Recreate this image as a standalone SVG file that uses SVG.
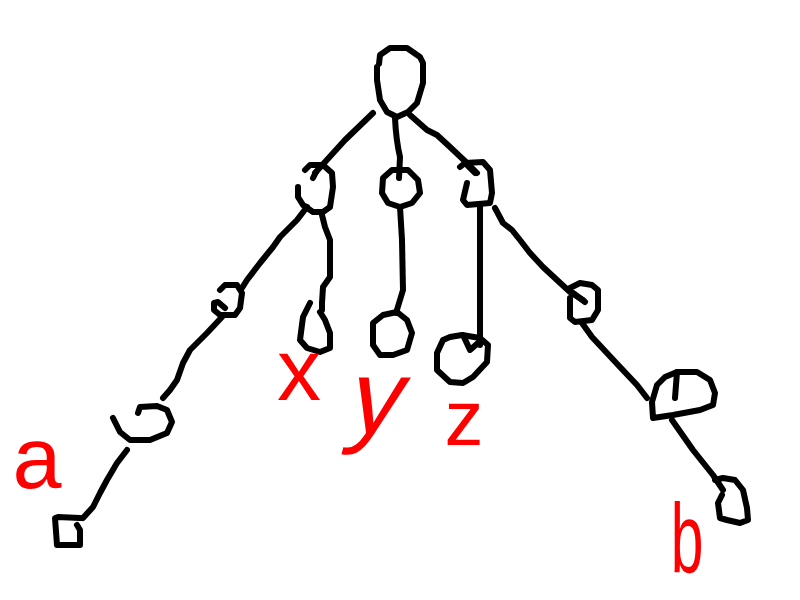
<svg xmlns="http://www.w3.org/2000/svg" width="800" height="600" viewBox="0 0 800 600">
<style>
.s{fill:none;stroke:#000;stroke-width:6;stroke-linecap:round;stroke-linejoin:round}
.l{fill:#ff0000;font-family:"Liberation Sans",Arial,sans-serif;text-anchor:middle}
</style>
<rect width="800" height="600" fill="#fff"/>
<g id="connectors" class="s">
<path d="M373,113 L345,140 L315,173"/>
<path d="M395,118 Q396,140 400,157 L399,178"/>
<path d="M410,115 L427,130 L437,135 L450,147 L467,163 L477,173"/>
<path d="M307,207 L297,220 L280,237 L273,247 L260,263 L247,280 L242,288"/>
<path d="M322,215 L325,227 L330,240 L330,277 L323,287 L322,303 L322,310"/>
<path d="M400,207 L402,240 L403,290 L396,313"/>
<path d="M480,205 L480,345"/>
<path d="M495,208 L503,223 L512,230 L520,240 L530,253 L543,267 L557,280 L570,292 L583,300"/>
<path d="M222,317 L207,333 L190,350 L183,363 L177,380 L170,390 L163,398"/>
<path d="M127,450 L117,463 L107,480 L100,493 L93,507 L83,518"/>
<path d="M582,323 L592,337 L620,367 L637,385 L647,398"/>
<path d="M672,420 L693,450 L713,475 L723,490"/>
</g>
<g id="root" class="s"><path d="M379,64 L380,55 L390,48 L407,48 L420,57 L423,63 L423,83 L417,103 L408,112 L397,117 L387,112 L380,100 L377,80 L377,67"/></g>
<g id="n-left" class="s"><path d="M305,170 L310,165 L323,165 L332,173 L333,187 L330,207 L323,212 L313,212 L303,205 L298,197 L298,187"/><path d="M313,178 L316,172"/></g>
<g id="n-mid" class="s"><path d="M392,170 L408,170 L418,180 L420,193 L412,203 L400,207 L388,203 L382,193 L383,178 Z"/></g>
<g id="n-right" class="s"><path d="M467,183 L463,200 L467,205 L490,203 L492,193 L490,170 L483,162 L465,163 L460,167"/><path d="M475,173 L468,166"/></g>
<g id="n-left2" class="s"><path d="M220,290 L225,285 L237,285 L242,293 L240,308 L235,315 L220,315 L214,310 L214,303 L218,302 L225,308"/></g>
<g id="n-left3" class="s"><path d="M113,418 L120,432 L130,440 L150,440 L167,433 L172,422 L167,410 L157,406 L140,407 L138,413"/></g>
<g id="n-left4" class="s"><path d="M77,525 L80,530 L80,545 L57,545 L55,518 L58,517 L80,518"/></g>
<g id="n-x" class="s"><path d="M310,303 L303,317 L300,340 L307,348 L320,352 L330,348 L330,333 L325,320 L320,312"/></g>
<g id="n-y" class="s"><path d="M383,315 L397,312 L407,320 L412,333 L407,350 L393,355 L380,355 L373,345 L373,323 Z"/></g>
<g id="n-z" class="s"><path d="M443,340 L437,353 L437,370 L450,382 L463,383 L473,377 L487,362 L488,345 L480,338 L462,335 L450,337 Z"/><path d="M463,335 L470,350 L478,343"/></g>
<g id="n-right2" class="s"><path d="M570,298 L570,318 L575,322 L592,320 L598,310 L598,290 L592,285 L580,283 L570,288"/><path d="M573,293 L585,302"/></g>
<g id="n-right3" class="s"><path d="M653,418 L652,402 L657,385 L665,377 L677,372 L697,372 L710,380 L715,393 L713,405 L700,410 L673,415 Z"/><path d="M675,398 L677,372"/></g>
<g id="n-right4" class="s"><path d="M722,495 L718,503 L720,518 L727,520 L740,523 L748,520 L747,508 L743,490 L735,480 L723,478 L715,480"/></g>
<g id="label-a"><text class="l" x="37" y="488" font-size="88">a</text></g>
<g id="label-x"><text class="l" x="299" y="400" font-size="88">x</text></g>
<g id="label-y"><text class="l" transform="translate(370,433) skewX(-15)" x="0" y="0" font-size="105">y</text></g>
<g id="label-z"><text class="l" x="464" y="445" font-size="78">z</text></g>
<g id="label-b"><text class="l" transform="translate(687,572) scale(0.6,1)" x="0" y="0" font-size="98">b</text></g>
</svg>
